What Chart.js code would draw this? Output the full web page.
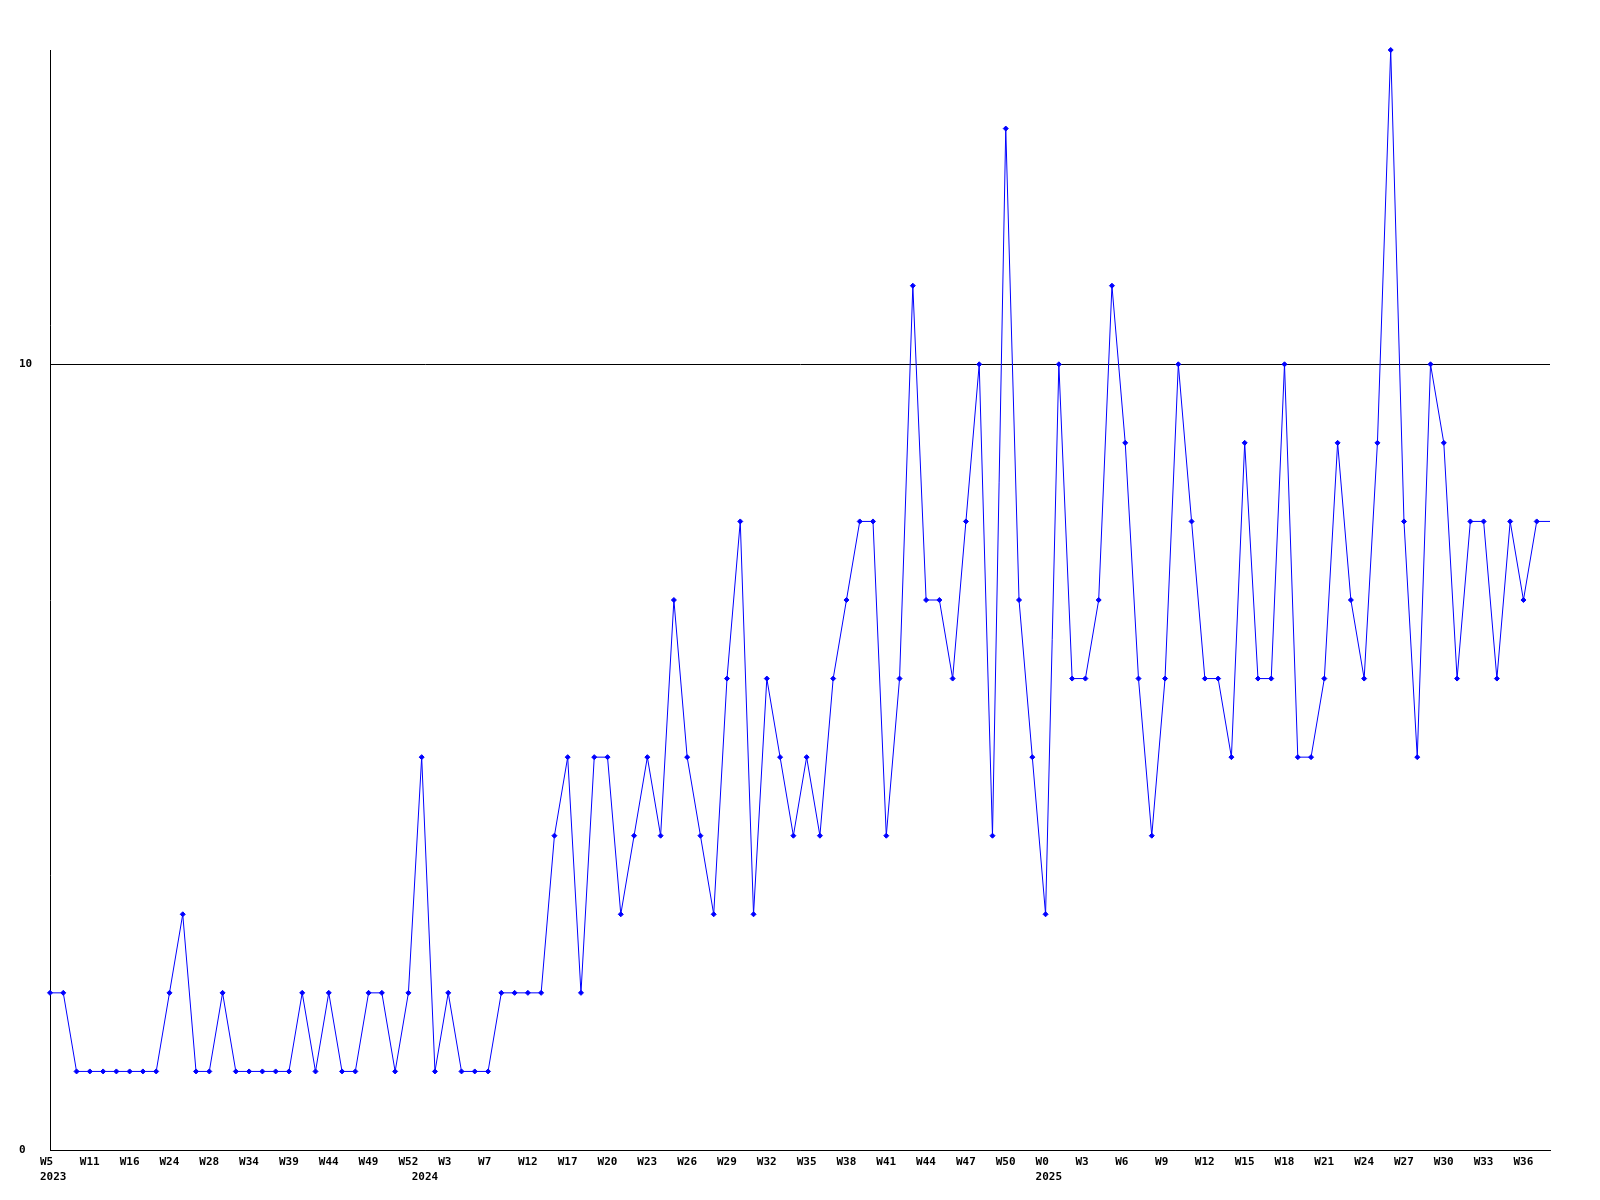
<!DOCTYPE html>
<html>
<head>
<meta charset="utf-8">
<title>Weekly count</title>
<script src="https://cdn.jsdelivr.net/npm/chart.js@4.4.1/dist/chart.umd.min.js"></script>
<style>
    html, body { margin: 0; padding: 0; background: #ffffff; }
    #wrap { width: 1600px; height: 1200px; }
</style>
</head>
<body>
<div id="wrap"><canvas id="week-chart" width="1600" height="1200"></canvas></div>
<script>
// week number of every point (weeks without data are simply missing)
const weekNums = [
    5, 8, 9, 11, 13, 14, 16, 19, 21, 24,
    25, 27, 28, 30, 32, 34, 36, 37, 39, 41,
    42, 44, 46, 47, 49, 50, 51, 52, 1, 2,
    3, 4, 6, 7, 9, 10, 12, 14, 16, 17,
    18, 19, 20, 21, 22, 23, 24, 25, 26, 27,
    28, 29, 30, 31, 32, 33, 34, 35, 36, 37,
    38, 39, 40, 41, 42, 43, 44, 45, 46, 47,
    48, 49, 50, 51, 52, 0, 1, 2, 3, 4,
    5, 6, 7, 8, 9, 10, 11, 12, 13, 14,
    15, 16, 17, 18, 19, 20, 21, 22, 23, 24,
    25, 26, 27, 28, 29, 30, 31, 32, 33, 34,
    35, 36, 37, 38
];

// first point of each year + the year printed under it
const yearStarts = [0, 28, 75];
const yearNames = ['2023', '2024', '2025'];

// counts per week
const counts = [
    2, 2, 1, 1, 1, 1, 1, 1, 1, 2,
    3, 1, 1, 2, 1, 1, 1, 1, 1, 2,
    1, 2, 1, 1, 2, 2, 1, 2, 5, 1,
    2, 1, 1, 1, 2, 2, 2, 2, 4, 5,
    2, 5, 5, 3, 4, 5, 4, 7, 5, 4,
    3, 6, 8, 3, 6, 5, 4, 5, 4, 6,
    7, 8, 8, 4, 6, 11, 7, 7, 6, 8,
    10, 4, 13, 7, 5, 3, 10, 6, 6, 7,
    11, 9, 6, 4, 6, 10, 8, 6, 6, 5,
    9, 6, 6, 10, 5, 5, 6, 9, 7, 6,
    9, 14, 8, 5, 10, 9, 6, 8, 8, 6,
    8, 7, 8, 8
];

// y axis: only these values get a label / line
const yTicks = [0, 10];
const yMax = 14;

// only every 3rd week is printed on the axis
const labelEvery = 3;

const labels = weekNums.map(n => 'W' + n);
const axisFont = { family: '"DejaVu Sans Mono", monospace', size: 11, weight: 'bold', lineHeight: 1.36 };

const weekChart = new Chart(document.getElementById('week-chart'), {
    type: 'line',
    data: {
        labels: labels,
        datasets: [{
            data: counts,
            borderColor: '#0000ff',
            borderWidth: 1,
            tension: 0,
            clip: false,
            pointStyle: 'rectRot',
            // last value just runs into the right edge, no marker there
            pointRadius: ctx => ctx.dataIndex === counts.length - 1 ? 0 : 2.5,
            pointBackgroundColor: '#0000ff',
            pointBorderColor: '#0000ff',
            pointBorderWidth: 1
        }]
    },
    options: {
        responsive: false,
        animation: false,
        layout: {
            padding: { top: 50, right: 50, left: 19, bottom: 0 }
        },
        plugins: {
            legend: { display: false },
            tooltip: { enabled: false }
        },
        scales: {
            x: {
                type: 'category',
                offset: false,
                grid: { display: false, drawTicks: false },
                border: { display: true, color: '#000000', width: 1 },
                ticks: {
                    autoSkip: false,
                    maxRotation: 0,
                    minRotation: 0,
                    padding: 5,
                    // text starts a bit left of the point, like the original
                    align: 'start',
                    labelOffset: -10,
                    color: '#000000',
                    font: axisFont,
                    callback: function (value, i) {
                        const week = i % labelEvery === 0 ? labels[i] : '';
                        const y = yearStarts.indexOf(i);
                        if (y >= 0) {
                            return [week, yearNames[y]];
                        }
                        return week;
                    }
                },
                afterFit: scale => { scale.height = 50; }
            },
            y: {
                min: 0,
                max: yMax,
                grid: { color: '#000000', lineWidth: 1, drawTicks: false },
                border: { display: true, color: '#000000', width: 1 },
                ticks: {
                    crossAlign: 'far',
                    padding: 0,
                    color: '#000000',
                    font: axisFont
                },
                afterBuildTicks: scale => {
                    scale.ticks = yTicks.map(v => ({ value: v }));
                },
                afterFit: scale => { scale.width = 31; }
            }
        }
    }
});
</script>
</body>
</html>
